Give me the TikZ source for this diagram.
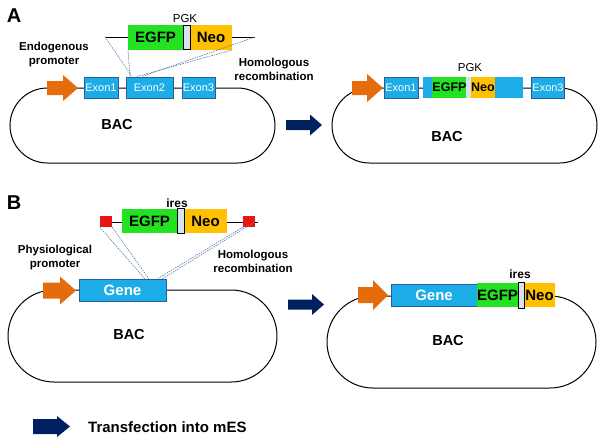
\documentclass[tikz,border=0pt]{standalone}
\usepackage{fontspec}
\setmainfont{Liberation Sans}
\usetikzlibrary{calc}
\definecolor{egfp}{RGB}{34,226,34}
\definecolor{neo}{RGB}{255,192,0}
\definecolor{cyanc}{RGB}{28,172,232}
\definecolor{exonborder}{RGB}{40,95,150}
\definecolor{orangeA}{RGB}{228,108,10}
\definecolor{navyA}{RGB}{0,32,96}
\definecolor{iresc}{RGB}{215,228,235}
\definecolor{dashc}{RGB}{90,120,170}
\definecolor{redsq}{RGB}{235,20,20}
\begin{document}
\begin{tikzpicture}[x=1pt,y=-1pt,
  exon/.style={draw=exonborder,fill=cyanc,line width=0.8pt,inner sep=0pt,outer sep=0pt,text=white,font=\fontsize{11}{13}\selectfont,minimum height=21pt},
  ins/.style={inner sep=0pt,outer sep=0pt,font=\bfseries\fontsize{15}{18}\selectfont},
  smallins/.style={inner sep=0pt,outer sep=0pt,font=\bfseries\fontsize{12.5}{14}\selectfont},
  spacer/.style={draw=black,fill=iresc,line width=0.8pt,inner sep=0pt,outer sep=0pt},
  lbl/.style={font=\bfseries\fontsize{11.5}{14}\selectfont,align=center,inner sep=0pt},
  bac/.style={draw=black,line width=1pt},
  hom/.style={draw=dashc,line width=0.6pt,dash pattern=on 1.5pt off 1pt},
  baclbl/.style={font=\bfseries\fontsize{14.5}{17}\selectfont,inner sep=0pt},
  panel/.style={font=\bfseries\fontsize{20}{24}\selectfont,inner sep=0pt},
  orangearrow/.style={fill=orangeA},
  navyarrow/.style={fill=navyA}
]
\useasboundingbox (0,0) rectangle (604,445);

% ================= Panel A =================
\node[panel] (pA) at (14,16) {A};

% left BAC
\draw[bac,rounded corners=37.5pt] (10,88) rectangle (275,163);
\node[baclbl] (bacA1) at (117,125) {BAC};
\fill[orangearrow] (47,81) -- (63,81) -- (63,75) -- (78,88) -- (63,101) -- (63,95) -- (47,95) -- cycle;
\node[exon,minimum width=34pt] (ex1A) at (101,87.5) {Exon1};
\node[exon,minimum width=47pt] (ex2A) at (149.5,87.5) {Exon2};
\node[exon,minimum width=33pt] (ex3A) at (198.5,87.5) {Exon3};

% targeting construct A
\coordinate (atl) at (105,37);
\coordinate (atr) at (255,37);
\draw[line width=1pt] (atl) -- (atr);
\node[ins,fill=egfp,minimum width=55pt,minimum height=25pt] (egfpA) at (155.5,37.5) {EGFP};
\node[ins,fill=neo,minimum width=42pt,minimum height=25pt] (neoA) at (211,37.5) {Neo};
\node[spacer,minimum width=7pt,minimum height=24pt] (pgkA) at (186.5,37.5) {};
\node[font=\fontsize{11.5}{13}\selectfont,inner sep=0pt] (pgklblA) at (185,19) {PGK};

\coordinate (h1) at (132,76.5);
\coordinate (h2) at (130,76.5);
\coordinate (h3) at (137,76.5);
\coordinate (h4) at (142,76.5);
\draw[hom] (atl) -- (h1);
\draw[hom] (egfpA.south west) -- (h2);
\draw[hom] (neoA.south east) -- (h3);
\draw[hom] (atr) -- (h4);

\node[lbl] (endoA) at (54,55) {Endogenous\\promoter};
\node[lbl] (homA) at (274,69) {Homologous\\recombination};

% arrow A
\fill[navyarrow] (286,120) -- (310,120) -- (310,114.5) -- (322,125) -- (310,135.5) -- (310,130) -- (286,130) -- cycle;

% right BAC A
\draw[bac,rounded corners=37.5pt] (332,88) rectangle (597,163);
\node[baclbl] (bacA2) at (447,137) {BAC};
\fill[orangearrow] (352,81) -- (367,81) -- (367,74) -- (383,88) -- (367,102) -- (367,95) -- (352,95) -- cycle;
\node[exon,minimum width=34pt] (ex1B) at (401,87.5) {Exon1};
\node[exon,minimum width=33pt] (ex3B) at (548,87.5) {Exon3};
\node[fill=cyanc,inner sep=0pt,minimum width=100pt,minimum height=20.5pt] (recA) at (473,87.5) {};
\node[smallins,fill=egfp,minimum width=33pt,minimum height=20.5pt] (egfpA2) at (449.5,87.5) {EGFP};
\node[fill=iresc,inner sep=0pt,minimum width=6pt,minimum height=20.5pt] (pgkA2) at (469,87.5) {};
\node[smallins,fill=neo,minimum width=22pt,minimum height=20.5pt] (neoA2) at (483,87.5) {Neo};
\node[font=\fontsize{11.5}{13}\selectfont,inner sep=0pt] (pgklblA2) at (470,68) {PGK};

% ================= Panel B =================
\node[panel] (pB) at (14,203) {B};

% left BAC B
\draw[bac,rounded corners=46pt] (8,290) rectangle (277,382);
\node[baclbl] (bacB1) at (129,334) {BAC};
\fill[orangearrow] (43,282.5) -- (60,282.5) -- (60,276.5) -- (76,290.5) -- (60,304.5) -- (60,298.5) -- (43,298.5) -- cycle;
\node[exon,minimum width=87pt,minimum height=22pt,font=\bfseries\fontsize{15}{18}\selectfont] (geneB) at (122.5,290) {Gene};

% targeting construct B
\coordinate (btl) at (100,222);
\coordinate (btr) at (258,222);
\draw[line width=1pt] (btl) -- (btr);
\node[fill=redsq,inner sep=0pt,minimum width=12pt,minimum height=11pt] (redL) at (106,221.5) {};
\node[fill=redsq,inner sep=0pt,minimum width=12pt,minimum height=11pt] (redR) at (249,221.5) {};
\node[ins,fill=egfp,minimum width=55pt,minimum height=24pt] (egfpB) at (149.5,221) {EGFP};
\node[ins,fill=neo,minimum width=43pt,minimum height=24pt] (neoB) at (205.5,221) {Neo};
\node[spacer,minimum width=7pt,minimum height=25pt] (iresB) at (180.5,220.5) {};
\node[font=\bfseries\fontsize{12}{14}\selectfont,inner sep=0pt] (ireslblB) at (177,203) {ires};

\coordinate (g1) at (145,279);
\coordinate (g2) at (149,279);
\coordinate (g3) at (157,279);
\coordinate (g4) at (162,279);
\draw[hom] (redL.south west) -- (g1);
\draw[hom] (redL.south east) -- (g2);
\draw[hom] (redR.south west) -- (g3);
\draw[hom] (redR.east) -- (g4);

\node[lbl] (physB) at (55,258) {Physiological\\promoter};
\node[lbl] (homB) at (253,261) {Homologous\\recombination};

% arrow B
\fill[navyarrow] (288,299.5) -- (312,299.5) -- (312,294) -- (324,304.5) -- (312,315) -- (312,309.5) -- (288,309.5) -- cycle;

% right BAC B
\draw[bac,rounded corners=46pt] (327,296) rectangle (596,388);
\node[baclbl] (bacB2) at (448,340) {BAC};
\fill[orangearrow] (358,287) -- (373,287) -- (373,280) -- (388,295) -- (373,310) -- (373,303) -- (358,303) -- cycle;
\node[exon,minimum width=86pt,minimum height=22pt,font=\bfseries\fontsize{15}{18}\selectfont] (geneB2) at (434,295) {Gene};
\node[ins,fill=egfp,minimum width=41pt,minimum height=24pt] (egfpB2) at (497.5,295) {EGFP};
\node[ins,fill=neo,minimum width=31pt,minimum height=24pt] (neoB2) at (539.5,295) {Neo};
\node[spacer,minimum width=6pt,minimum height=26pt] (iresB2) at (521,295) {};
\node[font=\bfseries\fontsize{12}{14}\selectfont,inner sep=0pt] (ireslblB2) at (520,274) {ires};

% ================= Legend =================
\fill[navyarrow] (33,419) -- (57,419) -- (57,416) -- (70,426.5) -- (57,437) -- (57,434) -- (33,434) -- cycle;
\node[font=\bfseries\fontsize{15}{18}\selectfont,anchor=west,inner sep=0pt] (legend) at (88,427) {Transfection into mES};

\end{tikzpicture}
\end{document}
